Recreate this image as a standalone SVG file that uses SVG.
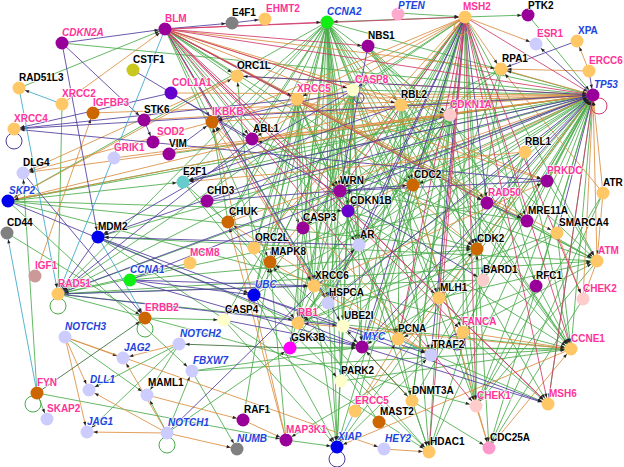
<svg xmlns="http://www.w3.org/2000/svg" width="624" height="467" viewBox="0 0 624 467">
<style>
.e line{stroke-width:0.85;fill:none;marker-end:url(#a)}
.g line{stroke:#4aab4a}
.o line{stroke:#dc8e40}
.p line{stroke:#4f3a9e}
.r line{stroke:#d03a6a}
.t line{stroke:#3aa6c8}
.d line{stroke:#356b35}
.loop{fill:none;stroke-width:1}
text{font-family:"Liberation Sans",Arial,sans-serif;font-size:10px;font-weight:bold;paint-order:stroke;stroke:#fff;stroke-width:1.6px;stroke-opacity:0.85;stroke-linejoin:round}
.k{fill:#000}
.m{fill:#ff3399}
.mi{fill:#ff3399;font-style:italic}
.b{fill:#2244dd;font-style:italic}
.bn{fill:#2244dd}
.pu{fill:#990099}.bv{fill:#6600cc}.bl{fill:#0000ee}.gr{fill:#11ee11}.lo{fill:#ffc766}.do{fill:#cc6600}.gy{fill:#808080}.lv{fill:#ccccff}.ly{fill:#ffffcc}.lp{fill:#ffcccc}
</style>
<defs>
<marker id="a" viewBox="-12 -2 12 4" refX="0" refY="0" markerWidth="12" markerHeight="4" markerUnits="userSpaceOnUse" orient="auto">
<path d="M-6.5,0 L-10.5,-1.6 L-10.5,1.6 z" fill="#222"/>
</marker>
</defs>
<rect width="624" height="467" fill="#fff"/>
<g id="connectors">
<g class="e g">
<line x1="62" y1="43" x2="593" y2="95"/><line x1="327" y1="22" x2="593" y2="95"/><line x1="368" y1="46" x2="593" y2="95"/><line x1="353" y1="90" x2="593" y2="95"/><line x1="401" y1="105" x2="593" y2="95"/><line x1="450" y1="115" x2="593" y2="95"/><line x1="525" y1="152" x2="593" y2="95"/><line x1="547" y1="181" x2="593" y2="95"/><line x1="527" y1="221" x2="593" y2="95"/><line x1="477" y1="249" x2="593" y2="95"/><line x1="413" y1="185" x2="593" y2="95"/><line x1="340" y1="191" x2="593" y2="95"/><line x1="359" y1="245" x2="593" y2="95"/><line x1="314" y1="286" x2="593" y2="95"/><line x1="439" y1="298" x2="593" y2="95"/><line x1="483" y1="280" x2="593" y2="95"/><line x1="343" y1="326" x2="593" y2="95"/><line x1="398" y1="339" x2="593" y2="95"/><line x1="476" y1="406" x2="593" y2="95"/><line x1="463" y1="332" x2="593" y2="95"/><line x1="429" y1="452" x2="593" y2="95"/><line x1="412" y1="401" x2="593" y2="95"/><line x1="341" y1="381" x2="593" y2="95"/><line x1="270" y1="262" x2="593" y2="95"/><line x1="303" y1="228" x2="593" y2="95"/><line x1="183" y1="182" x2="593" y2="95"/><line x1="98" y1="237" x2="593" y2="95"/><line x1="8" y1="201" x2="593" y2="95"/><line x1="254" y1="295" x2="593" y2="95"/><line x1="337" y1="447" x2="593" y2="95"/><line x1="290" y1="348" x2="593" y2="95"/><line x1="548" y1="404" x2="593" y2="95"/><line x1="571" y1="349" x2="593" y2="95"/><line x1="431" y1="355" x2="593" y2="95"/><line x1="489" y1="448" x2="593" y2="95"/><line x1="536" y1="286" x2="593" y2="95"/><line x1="528" y1="15" x2="593" y2="95"/><line x1="169" y1="154" x2="593" y2="95"/>
<line x1="465" y1="17" x2="327" y2="22"/><line x1="465" y1="17" x2="353" y2="90"/><line x1="465" y1="17" x2="401" y2="105"/><line x1="465" y1="17" x2="348" y2="211"/><line x1="465" y1="17" x2="413" y2="185"/><line x1="465" y1="17" x2="314" y2="286"/><line x1="465" y1="17" x2="343" y2="326"/><line x1="465" y1="17" x2="463" y2="332"/><line x1="465" y1="17" x2="58" y2="294"/><line x1="465" y1="17" x2="355" y2="411"/><line x1="465" y1="17" x2="337" y2="447"/><line x1="465" y1="17" x2="341" y2="381"/><line x1="465" y1="17" x2="477" y2="249"/><line x1="465" y1="17" x2="483" y2="280"/><line x1="465" y1="17" x2="536" y2="286"/><line x1="465" y1="17" x2="528" y2="15"/><line x1="465" y1="17" x2="303" y2="228"/><line x1="465" y1="17" x2="254" y2="295"/><line x1="465" y1="17" x2="597" y2="261"/><line x1="465" y1="17" x2="290" y2="348"/><line x1="465" y1="17" x2="412" y2="401"/><line x1="465" y1="17" x2="527" y2="221"/><line x1="398" y1="13" x2="465" y2="17"/>
<line x1="165" y1="29" x2="527" y2="221"/><line x1="165" y1="29" x2="597" y2="261"/><line x1="165" y1="29" x2="413" y2="185"/><line x1="165" y1="29" x2="477" y2="249"/><line x1="165" y1="29" x2="252" y2="139"/><line x1="165" y1="29" x2="212" y2="122"/><line x1="165" y1="29" x2="303" y2="228"/><line x1="165" y1="29" x2="359" y2="245"/><line x1="165" y1="29" x2="328" y2="303"/><line x1="165" y1="29" x2="237" y2="76"/><line x1="165" y1="29" x2="270" y2="262"/><line x1="19" y1="88" x2="165" y2="29"/>
<line x1="327" y1="22" x2="212" y2="122"/><line x1="327" y1="22" x2="252" y2="139"/><line x1="327" y1="22" x2="207" y2="201"/><line x1="327" y1="22" x2="228" y2="222"/><line x1="327" y1="22" x2="303" y2="228"/><line x1="327" y1="22" x2="254" y2="248"/><line x1="327" y1="22" x2="270" y2="262"/><line x1="327" y1="22" x2="254" y2="295"/><line x1="327" y1="22" x2="314" y2="286"/><line x1="327" y1="22" x2="340" y2="191"/><line x1="327" y1="22" x2="348" y2="211"/><line x1="327" y1="22" x2="413" y2="185"/><line x1="327" y1="22" x2="359" y2="245"/><line x1="327" y1="22" x2="477" y2="249"/><line x1="327" y1="22" x2="398" y2="339"/><line x1="327" y1="22" x2="362" y2="347"/><line x1="327" y1="22" x2="183" y2="182"/><line x1="327" y1="22" x2="8" y2="201"/><line x1="327" y1="22" x2="571" y2="349"/><line x1="327" y1="22" x2="476" y2="406"/><line x1="327" y1="22" x2="548" y2="404"/><line x1="327" y1="22" x2="463" y2="332"/><line x1="327" y1="22" x2="328" y2="303"/><line x1="327" y1="22" x2="337" y2="447"/><line x1="327" y1="22" x2="343" y2="326"/><line x1="327" y1="22" x2="290" y2="348"/><line x1="327" y1="22" x2="298" y2="323"/><line x1="327" y1="22" x2="439" y2="298"/><line x1="327" y1="22" x2="341" y2="381"/><line x1="327" y1="22" x2="401" y2="105"/><line x1="327" y1="22" x2="450" y2="115"/><line x1="327" y1="22" x2="58" y2="294"/>
<line x1="353" y1="90" x2="303" y2="228"/><line x1="353" y1="90" x2="337" y2="447"/><line x1="353" y1="90" x2="431" y2="355"/><line x1="353" y1="90" x2="348" y2="211"/><line x1="353" y1="90" x2="359" y2="245"/><line x1="353" y1="90" x2="314" y2="286"/><line x1="353" y1="90" x2="328" y2="303"/><line x1="353" y1="90" x2="270" y2="262"/><line x1="353" y1="90" x2="254" y2="295"/><line x1="353" y1="90" x2="224" y2="320"/><line x1="353" y1="90" x2="341" y2="381"/><line x1="353" y1="90" x2="362" y2="347"/><line x1="353" y1="90" x2="290" y2="348"/><line x1="353" y1="90" x2="228" y2="222"/><line x1="353" y1="90" x2="298" y2="323"/>
<line x1="297" y1="99" x2="314" y2="286"/><line x1="297" y1="99" x2="340" y2="191"/><line x1="297" y1="99" x2="359" y2="245"/><line x1="297" y1="99" x2="328" y2="303"/><line x1="297" y1="99" x2="254" y2="295"/><line x1="297" y1="99" x2="303" y2="228"/><line x1="297" y1="99" x2="254" y2="248"/><line x1="297" y1="99" x2="298" y2="323"/><line x1="297" y1="99" x2="398" y2="339"/><line x1="297" y1="99" x2="228" y2="222"/><line x1="297" y1="99" x2="270" y2="262"/>
<line x1="401" y1="105" x2="477" y2="249"/><line x1="401" y1="105" x2="429" y2="452"/><line x1="401" y1="105" x2="571" y2="349"/><line x1="401" y1="105" x2="413" y2="185"/><line x1="401" y1="105" x2="298" y2="323"/><line x1="401" y1="105" x2="362" y2="347"/><line x1="401" y1="105" x2="398" y2="339"/>
<line x1="450" y1="115" x2="477" y2="249"/><line x1="450" y1="115" x2="413" y2="185"/><line x1="450" y1="115" x2="398" y2="339"/><line x1="450" y1="115" x2="571" y2="349"/><line x1="450" y1="115" x2="362" y2="347"/><line x1="450" y1="115" x2="348" y2="211"/><line x1="450" y1="115" x2="290" y2="348"/><line x1="450" y1="115" x2="303" y2="228"/><line x1="450" y1="115" x2="183" y2="182"/><line x1="450" y1="115" x2="298" y2="323"/><line x1="450" y1="115" x2="429" y2="452"/><line x1="450" y1="115" x2="476" y2="406"/><line x1="450" y1="115" x2="412" y2="401"/><line x1="450" y1="115" x2="359" y2="245"/>
<line x1="368" y1="46" x2="487" y2="203"/><line x1="368" y1="46" x2="527" y2="221"/><line x1="368" y1="46" x2="597" y2="261"/><line x1="368" y1="46" x2="477" y2="249"/><line x1="368" y1="46" x2="571" y2="349"/>
<line x1="501" y1="69" x2="58" y2="294"/><line x1="501" y1="69" x2="340" y2="191"/><line x1="501" y1="69" x2="398" y2="339"/><line x1="501" y1="69" x2="477" y2="249"/>
<line x1="525" y1="152" x2="477" y2="249"/><line x1="525" y1="152" x2="571" y2="349"/><line x1="525" y1="152" x2="429" y2="452"/><line x1="525" y1="152" x2="413" y2="185"/><line x1="525" y1="152" x2="298" y2="323"/>
<line x1="547" y1="181" x2="597" y2="261"/><line x1="603" y1="193" x2="476" y2="406"/><line x1="603" y1="193" x2="489" y2="448"/><line x1="487" y1="203" x2="597" y2="261"/><line x1="487" y1="203" x2="58" y2="294"/><line x1="527" y1="221" x2="597" y2="261"/><line x1="527" y1="221" x2="340" y2="191"/><line x1="557" y1="233" x2="298" y2="323"/><line x1="557" y1="233" x2="571" y2="349"/><line x1="557" y1="233" x2="362" y2="347"/>
<line x1="477" y1="249" x2="571" y2="349"/><line x1="348" y1="211" x2="477" y2="249"/><line x1="477" y1="249" x2="489" y2="448"/><line x1="477" y1="249" x2="298" y2="323"/><line x1="8" y1="201" x2="477" y2="249"/><line x1="130" y1="280" x2="477" y2="249"/><line x1="476" y1="406" x2="477" y2="249"/>
<line x1="597" y1="261" x2="476" y2="406"/><line x1="597" y1="261" x2="252" y2="139"/><line x1="597" y1="261" x2="98" y2="237"/><line x1="483" y1="280" x2="58" y2="294"/><line x1="536" y1="286" x2="398" y2="339"/><line x1="536" y1="286" x2="476" y2="406"/><line x1="583" y1="299" x2="489" y2="448"/><line x1="413" y1="185" x2="298" y2="323"/><line x1="413" y1="185" x2="476" y2="406"/>
<line x1="340" y1="191" x2="314" y2="286"/><line x1="340" y1="191" x2="398" y2="339"/><line x1="340" y1="191" x2="58" y2="294"/><line x1="348" y1="211" x2="571" y2="349"/><line x1="8" y1="201" x2="348" y2="211"/><line x1="359" y1="245" x2="429" y2="452"/><line x1="359" y1="245" x2="298" y2="323"/><line x1="359" y1="245" x2="328" y2="303"/><line x1="328" y1="303" x2="337" y2="447"/><line x1="439" y1="298" x2="398" y2="339"/><line x1="439" y1="298" x2="597" y2="261"/>
<line x1="58" y1="294" x2="476" y2="406"/><line x1="58" y1="294" x2="571" y2="349"/><line x1="58" y1="294" x2="597" y2="261"/><line x1="8" y1="201" x2="571" y2="349"/><line x1="8" y1="201" x2="450" y2="115"/><line x1="8" y1="201" x2="183" y2="182"/><line x1="8" y1="201" x2="192" y2="371"/><line x1="7" y1="233" x2="145" y2="318"/><line x1="98" y1="237" x2="298" y2="323"/><line x1="98" y1="237" x2="429" y2="452"/><line x1="183" y1="182" x2="298" y2="323"/><line x1="183" y1="182" x2="362" y2="347"/><line x1="207" y1="201" x2="429" y2="452"/><line x1="228" y1="222" x2="212" y2="122"/><line x1="303" y1="228" x2="337" y2="447"/><line x1="286" y1="440" x2="270" y2="262"/><line x1="254" y1="248" x2="237" y2="76"/><line x1="190" y1="263" x2="58" y2="294"/><line x1="62" y1="104" x2="58" y2="294"/>
<line x1="254" y1="295" x2="341" y2="381"/><line x1="254" y1="295" x2="337" y2="447"/><line x1="145" y1="318" x2="224" y2="320"/><line x1="224" y1="320" x2="337" y2="447"/><line x1="290" y1="348" x2="362" y2="347"/><line x1="290" y1="348" x2="571" y2="349"/><line x1="167" y1="433" x2="290" y2="348"/><line x1="298" y1="323" x2="429" y2="452"/><line x1="343" y1="326" x2="337" y2="447"/><line x1="398" y1="339" x2="412" y2="401"/><line x1="398" y1="339" x2="548" y2="404"/><line x1="362" y1="347" x2="571" y2="349"/><line x1="192" y1="371" x2="362" y2="347"/><line x1="362" y1="347" x2="477" y2="249"/><line x1="431" y1="355" x2="286" y2="440"/><line x1="341" y1="381" x2="571" y2="349"/><line x1="379" y1="422" x2="270" y2="262"/><line x1="286" y1="440" x2="337" y2="447"/><line x1="337" y1="447" x2="431" y2="355"/><line x1="412" y1="401" x2="429" y2="452"/><line x1="412" y1="401" x2="489" y2="448"/><line x1="463" y1="332" x2="548" y2="404"/><line x1="463" y1="332" x2="476" y2="406"/><line x1="463" y1="332" x2="597" y2="261"/><line x1="192" y1="371" x2="571" y2="349"/>
<line x1="65" y1="337" x2="147" y2="395"/><line x1="167" y1="433" x2="147" y2="395"/><line x1="167" y1="433" x2="192" y2="371"/><line x1="179" y1="344" x2="89" y2="390"/><line x1="179" y1="344" x2="87" y2="432"/><line x1="179" y1="344" x2="147" y2="395"/><line x1="37" y1="393" x2="47" y2="419"/><line x1="37" y1="393" x2="23" y2="173"/><line x1="37" y1="393" x2="286" y2="440"/><line x1="192" y1="371" x2="237" y2="449"/><line x1="243" y1="420" x2="270" y2="262"/>
</g>
<g class="e o">
<line x1="297" y1="99" x2="593" y2="95"/><line x1="237" y1="76" x2="593" y2="95"/><line x1="348" y1="211" x2="593" y2="95"/><line x1="597" y1="261" x2="593" y2="95"/><line x1="603" y1="193" x2="593" y2="95"/><line x1="212" y1="122" x2="593" y2="95"/><line x1="144" y1="120" x2="593" y2="95"/><line x1="171" y1="93" x2="593" y2="95"/><line x1="93" y1="113" x2="593" y2="95"/><line x1="252" y1="139" x2="593" y2="95"/><line x1="228" y1="222" x2="593" y2="95"/><line x1="583" y1="299" x2="593" y2="95"/><line x1="593" y1="95" x2="501" y2="69"/><line x1="355" y1="411" x2="593" y2="95"/><line x1="593" y1="95" x2="23" y2="173"/><line x1="114" y1="158" x2="593" y2="95"/>
<line x1="465" y1="17" x2="297" y2="99"/><line x1="465" y1="17" x2="536" y2="44"/><line x1="465" y1="17" x2="501" y2="69"/><line x1="465" y1="17" x2="270" y2="262"/><line x1="465" y1="17" x2="254" y2="248"/><line x1="465" y1="17" x2="252" y2="139"/><line x1="465" y1="17" x2="212" y2="122"/>
<line x1="165" y1="29" x2="501" y2="69"/><line x1="165" y1="29" x2="450" y2="115"/><line x1="165" y1="29" x2="547" y2="181"/><line x1="165" y1="29" x2="557" y2="233"/><line x1="165" y1="29" x2="401" y2="105"/><line x1="62" y1="104" x2="165" y2="29"/>
<line x1="297" y1="99" x2="547" y2="181"/><line x1="297" y1="99" x2="477" y2="249"/><line x1="297" y1="99" x2="527" y2="221"/><line x1="297" y1="99" x2="487" y2="203"/><line x1="297" y1="99" x2="23" y2="173"/><line x1="401" y1="105" x2="8" y2="201"/><line x1="450" y1="115" x2="8" y2="201"/><line x1="589" y1="71" x2="501" y2="69"/><line x1="589" y1="71" x2="577" y2="41"/><line x1="603" y1="193" x2="597" y2="261"/><line x1="603" y1="193" x2="501" y2="69"/><line x1="597" y1="261" x2="583" y2="299"/><line x1="557" y1="233" x2="583" y2="299"/><line x1="314" y1="286" x2="547" y2="181"/><line x1="413" y1="185" x2="489" y2="448"/><line x1="476" y1="406" x2="489" y2="448"/><line x1="8" y1="201" x2="237" y2="76"/><line x1="237" y1="76" x2="23" y2="173"/><line x1="525" y1="152" x2="183" y2="182"/><line x1="35" y1="276" x2="93" y2="113"/><line x1="328" y1="303" x2="212" y2="122"/><line x1="431" y1="355" x2="228" y2="222"/><line x1="286" y1="440" x2="228" y2="222"/><line x1="286" y1="440" x2="212" y2="122"/><line x1="431" y1="355" x2="270" y2="262"/><line x1="431" y1="355" x2="212" y2="122"/><line x1="571" y1="349" x2="298" y2="323"/><line x1="355" y1="411" x2="398" y2="339"/><line x1="362" y1="347" x2="412" y2="401"/><line x1="571" y1="349" x2="337" y2="447"/><line x1="384" y1="449" x2="429" y2="452"/><line x1="463" y1="332" x2="571" y2="349"/><line x1="489" y1="448" x2="571" y2="349"/>
<line x1="65" y1="337" x2="123" y2="358"/><line x1="65" y1="337" x2="89" y2="390"/><line x1="65" y1="337" x2="87" y2="432"/><line x1="167" y1="433" x2="123" y2="358"/><line x1="167" y1="433" x2="89" y2="390"/><line x1="167" y1="433" x2="87" y2="432"/><line x1="167" y1="433" x2="237" y2="449"/><line x1="179" y1="344" x2="123" y2="358"/><line x1="147" y1="395" x2="243" y2="420"/><line x1="243" y1="420" x2="286" y2="440"/><line x1="65" y1="337" x2="384" y2="449"/>
</g>
<g class="e p">
<line x1="487" y1="203" x2="593" y2="95"/><line x1="328" y1="303" x2="593" y2="95"/><line x1="557" y1="233" x2="593" y2="95"/><line x1="362" y1="347" x2="593" y2="95"/><line x1="207" y1="201" x2="593" y2="95"/><line x1="58" y1="294" x2="593" y2="95"/><line x1="14" y1="129" x2="593" y2="95"/><line x1="589" y1="71" x2="593" y2="95"/><line x1="593" y1="95" x2="536" y2="44"/><line x1="130" y1="280" x2="593" y2="95"/><line x1="593" y1="95" x2="237" y2="76"/><line x1="593" y1="95" x2="183" y2="182"/>
<line x1="465" y1="17" x2="359" y2="245"/><line x1="465" y1="17" x2="362" y2="347"/><line x1="465" y1="17" x2="431" y2="355"/><line x1="465" y1="17" x2="328" y2="303"/><line x1="465" y1="17" x2="487" y2="203"/>
<line x1="165" y1="29" x2="232" y2="23"/><line x1="232" y1="23" x2="265" y2="19"/><line x1="165" y1="29" x2="343" y2="326"/><line x1="62" y1="43" x2="165" y2="29"/><line x1="62" y1="43" x2="144" y2="120"/><line x1="62" y1="43" x2="98" y2="237"/><line x1="144" y1="120" x2="153" y2="142"/><line x1="171" y1="93" x2="252" y2="139"/><line x1="171" y1="93" x2="14" y2="129"/><line x1="169" y1="154" x2="212" y2="122"/><line x1="297" y1="99" x2="14" y2="129"/><line x1="547" y1="181" x2="14" y2="129"/><line x1="133" y1="70" x2="483" y2="280"/><line x1="577" y1="41" x2="501" y2="69"/><line x1="368" y1="46" x2="340" y2="191"/><line x1="487" y1="203" x2="527" y2="221"/><line x1="547" y1="181" x2="340" y2="191"/><line x1="353" y1="90" x2="212" y2="122"/><line x1="353" y1="90" x2="98" y2="237"/><line x1="450" y1="115" x2="98" y2="237"/><line x1="401" y1="105" x2="183" y2="182"/><line x1="207" y1="201" x2="413" y2="185"/><line x1="359" y1="245" x2="98" y2="237"/><line x1="23" y1="173" x2="145" y2="318"/><line x1="98" y1="237" x2="58" y2="294"/><line x1="98" y1="237" x2="254" y2="295"/><line x1="252" y1="139" x2="58" y2="294"/><line x1="58" y1="294" x2="314" y2="286"/><line x1="130" y1="280" x2="314" y2="286"/><line x1="130" y1="280" x2="254" y2="295"/><line x1="130" y1="280" x2="362" y2="347"/><line x1="58" y1="294" x2="343" y2="326"/><line x1="254" y1="295" x2="548" y2="404"/><line x1="362" y1="347" x2="548" y2="404"/><line x1="254" y1="295" x2="431" y2="355"/><line x1="224" y1="320" x2="362" y2="347"/><line x1="362" y1="347" x2="343" y2="326"/><line x1="8" y1="201" x2="362" y2="347"/><line x1="167" y1="433" x2="359" y2="245"/>
</g>
<g class="e r">
<line x1="165" y1="29" x2="593" y2="95"/><line x1="465" y1="17" x2="593" y2="95"/><line x1="165" y1="29" x2="340" y2="191"/><line x1="165" y1="29" x2="297" y2="99"/><line x1="165" y1="29" x2="353" y2="90"/><line x1="165" y1="29" x2="487" y2="203"/><line x1="165" y1="29" x2="368" y2="46"/><line x1="165" y1="29" x2="439" y2="298"/><line x1="165" y1="29" x2="476" y2="406"/><line x1="165" y1="29" x2="548" y2="404"/><line x1="165" y1="29" x2="463" y2="332"/><line x1="165" y1="29" x2="314" y2="286"/><line x1="165" y1="29" x2="465" y2="17"/><line x1="165" y1="29" x2="327" y2="22"/>
<line x1="465" y1="17" x2="450" y2="115"/><line x1="465" y1="17" x2="340" y2="191"/><line x1="465" y1="17" x2="439" y2="298"/><line x1="465" y1="17" x2="398" y2="339"/><line x1="465" y1="17" x2="476" y2="406"/><line x1="465" y1="17" x2="548" y2="404"/><line x1="465" y1="17" x2="571" y2="349"/><line x1="465" y1="17" x2="583" y2="299"/><line x1="465" y1="17" x2="429" y2="452"/><line x1="439" y1="298" x2="548" y2="404"/><line x1="593" y1="95" x2="548" y2="404"/>
</g>
<g class="e t">
<line x1="165" y1="29" x2="58" y2="294"/><line x1="62" y1="104" x2="19" y2="88"/><line x1="19" y1="88" x2="58" y2="294"/><line x1="37" y1="393" x2="7" y2="233"/><line x1="355" y1="411" x2="337" y2="447"/><line x1="398" y1="339" x2="431" y2="355"/><line x1="98" y1="237" x2="145" y2="318"/>
</g>
<g class="e d">
<line x1="37" y1="393" x2="145" y2="318"/><line x1="290" y1="348" x2="179" y2="344"/><line x1="412" y1="401" x2="362" y2="347"/>
</g>
<circle class="loop" cx="14" cy="141" r="8" stroke="#4f3a9e"/>
<circle class="loop" cx="58" cy="306" r="8" stroke="#4aab4a"/>
<circle class="loop" cx="145" cy="329" r="8" stroke="#4aab4a"/>
<circle class="loop" cx="33" cy="404" r="8" stroke="#4aab4a"/>
<circle class="loop" cx="167" cy="445" r="8" stroke="#4aab4a"/>
<circle class="loop" cx="337" cy="459" r="8" stroke="#4f3a9e"/>
<circle class="loop" cx="599" cy="106" r="8" stroke="#d03a6a"/>
<circle class="loop" cx="457" cy="342" r="8" stroke="#4f3a9e"/>
<circle class="loop" cx="359" cy="98" r="5" stroke="#4f3a9e"/>
<circle class="loop" cx="461" cy="28" r="7" stroke="#dc8e40"/>
</g>
<g id="nodes">
<g id="n-CDKN2A"><circle cx="62" cy="43" r="6.5" class="pu"/><text x="62" y="36" class="mi">CDKN2A</text></g>
<g id="n-CSTF1"><circle cx="133" cy="70" r="6.5" fill="#c8c81e"/><text x="133" y="63" class="k">CSTF1</text></g>
<g id="n-RAD51L3"><circle cx="19" cy="88" r="6.5" class="lo"/><text x="19" y="81" class="k">RAD51L3</text></g>
<g id="n-XRCC2"><circle cx="62" cy="104" r="6.5" class="lo"/><text x="62" y="97" class="m">XRCC2</text></g>
<g id="n-IGFBP3"><circle cx="93" cy="113" r="6.5" class="do"/><text x="93" y="106" class="m">IGFBP3</text></g>
<g id="n-XRCC4"><circle cx="14" cy="129" r="6.5" class="lo"/><text x="14" y="122" class="m">XRCC4</text></g>
<g id="n-STK6"><circle cx="144" cy="120" r="6.5" class="pu"/><text x="144" y="113" class="k">STK6</text></g>
<g id="n-SOD2"><circle cx="153" cy="142" r="6.5" class="pu"/><text x="157" y="135" class="m">SOD2</text></g>
<g id="n-GRIK1"><circle cx="114" cy="158" r="6.5" class="lv"/><text x="114" y="151" class="m">GRIK1</text></g>
<g id="n-BLM"><circle cx="165" cy="29" r="6.5" class="pu"/><text x="165" y="22" class="m">BLM</text></g>
<g id="n-E4F1"><circle cx="232" cy="23" r="6.5" class="gy"/><text x="232" y="16" class="k">E4F1</text></g>
<g id="n-EHMT2"><circle cx="265" cy="19" r="6.5" class="lo"/><text x="266" y="12" class="m">EHMT2</text></g>
<g id="n-ORC1L"><circle cx="237" cy="76" r="6.5" class="lo"/><text x="237" y="69" class="k">ORC1L</text></g>
<g id="n-COL1A1"><circle cx="171" cy="93" r="6.5" class="bv"/><text x="172" y="86" class="m">COL1A1</text></g>
<g id="n-XRCC5"><circle cx="297" cy="99" r="6.5" class="lo"/><text x="297" y="92" class="m">XRCC5</text></g>
<g id="n-IKBKB"><circle cx="212" cy="122" r="6.5" class="do"/><text x="212" y="115" class="m">IKBKB</text></g>
<g id="n-ABL1"><circle cx="252" cy="139" r="6.5" class="pu"/><text x="253" y="132" class="k">ABL1</text></g>
<g id="n-VIM"><circle cx="169" cy="154" r="6.5" class="pu"/><text x="169" y="147" class="k">VIM</text></g>
<g id="n-CCNA2"><circle cx="327" cy="22" r="6.5" class="gr"/><text x="327" y="15" class="b">CCNA2</text></g>
<g id="n-PTEN"><circle cx="398" cy="14" r="6.5" fill="#ffaacc"/><text x="398" y="9" class="b">PTEN</text></g>
<g id="n-NBS1"><circle cx="368" cy="46" r="6.5" class="pu"/><text x="368" y="39" class="k">NBS1</text></g>
<g id="n-CASP8"><circle cx="353" cy="90" r="6.5" class="ly"/><text x="355" y="83" class="m">CASP8</text></g>
<g id="n-RBL2"><circle cx="401" cy="105" r="6.5" class="lo"/><text x="401" y="98" class="k">RBL2</text></g>
<g id="n-CDKN1A"><circle cx="450" cy="115" r="6.5" class="lp"/><text x="450" y="108" class="m">CDKN1A</text></g>
<g id="n-MSH2"><circle cx="465" cy="17" r="6.5" class="lo"/><text x="463" y="10" class="m">MSH2</text></g>
<g id="n-PTK2"><circle cx="528" cy="15" r="6.5" class="pu"/><text x="528" y="9" class="k">PTK2</text></g>
<g id="n-ESR1"><circle cx="536" cy="44" r="6.5" class="lv"/><text x="537" y="37" class="m">ESR1</text></g>
<g id="n-XPA"><circle cx="577" cy="41" r="6.5" class="lo"/><text x="578" y="34" class="bn">XPA</text></g>
<g id="n-RPA1"><circle cx="501" cy="69" r="6.5" class="lo"/><text x="502" y="62" class="k">RPA1</text></g>
<g id="n-ERCC6"><circle cx="589" cy="71" r="6.5" class="lo"/><text x="589" y="64" class="m">ERCC6</text></g>
<g id="n-TP53"><circle cx="593" cy="95" r="6.5" class="pu"/><text x="594" y="88" class="b">TP53</text></g>
<g id="n-RBL1"><circle cx="525" cy="152" r="6.5" class="lo"/><text x="525" y="145" class="k">RBL1</text></g>
<g id="n-DLG4"><circle cx="23" cy="173" r="6.5" class="lv"/><text x="23" y="166" class="k">DLG4</text></g>
<g id="n-SKP2"><circle cx="8" cy="201" r="6.5" class="bl"/><text x="9" y="194" class="b">SKP2</text></g>
<g id="n-CD44"><circle cx="7" cy="233" r="6.5" class="gy"/><text x="7" y="226" class="k">CD44</text></g>
<g id="n-MDM2"><circle cx="98" cy="237" r="6.5" class="bl"/><text x="98" y="230" class="k">MDM2</text></g>
<g id="n-IGF1"><circle cx="35" cy="276" r="6.5" fill="#cc9999"/><text x="35" y="269" class="m">IGF1</text></g>
<g id="n-RAD51"><circle cx="58" cy="294" r="6.5" class="lo"/><text x="58" y="287" class="m">RAD51</text></g>
<g id="n-CCNA1"><circle cx="130" cy="280" r="6.5" class="gr"/><text x="130" y="273" class="b">CCNA1</text></g>
<g id="n-E2F1"><circle cx="183" cy="182" r="6.5" fill="#66cccc"/><text x="183" y="175" class="k">E2F1</text></g>
<g id="n-CHD3"><circle cx="207" cy="201" r="6.5" class="pu"/><text x="207" y="194" class="k">CHD3</text></g>
<g id="n-CHUK"><circle cx="228" cy="222" r="6.5" class="do"/><text x="229" y="215" class="k">CHUK</text></g>
<g id="n-CASP3"><circle cx="303" cy="228" r="6.5" class="pu"/><text x="303" y="221" class="k">CASP3</text></g>
<g id="n-ORC2L"><circle cx="254" cy="248" r="6.5" class="lo"/><text x="255" y="241" class="k">ORC2L</text></g>
<g id="n-MAPK8"><circle cx="270" cy="262" r="6.5" class="do"/><text x="271" y="255" class="k">MAPK8</text></g>
<g id="n-MCM8"><circle cx="190" cy="263" r="6.5" class="lo"/><text x="190" y="256" class="m">MCM8</text></g>
<g id="n-UBC"><circle cx="254" cy="295" r="6.5" class="bl"/><text x="255" y="288" class="b">UBC</text></g>
<g id="n-CASP4"><circle cx="224" cy="320" r="6.5" class="ly"/><text x="225" y="313" class="k">CASP4</text></g>
<g id="n-ERBB2"><circle cx="145" cy="318" r="6.5" class="do"/><text x="145" y="311" class="m">ERBB2</text></g>
<g id="n-WRN"><circle cx="340" cy="191" r="6.5" class="pu"/><text x="340" y="184" class="k">WRN</text></g>
<g id="n-CDKN1B"><circle cx="348" cy="211" r="6.5" class="bv"/><text x="350" y="204" class="k">CDKN1B</text></g>
<g id="n-CDC2"><circle cx="413" cy="185" r="6.5" class="do"/><text x="414" y="178" class="k">CDC2</text></g>
<g id="n-AR"><circle cx="359" cy="245" r="6.5" class="lv"/><text x="360" y="238" class="k">AR</text></g>
<g id="n-XRCC6"><circle cx="314" cy="286" r="6.5" class="lo"/><text x="315" y="279" class="k">XRCC6</text></g>
<g id="n-HSPCA"><circle cx="328" cy="303" r="6.5" class="lv"/><text x="329" y="296" class="k">HSPCA</text></g>
<g id="n-MLH1"><circle cx="439" cy="298" r="6.5" class="lo"/><text x="440" y="291" class="k">MLH1</text></g>
<g id="n-PRKDC"><circle cx="547" cy="181" r="6.5" class="pu"/><text x="547" y="174" class="m">PRKDC</text></g>
<g id="n-ATR"><circle cx="603" cy="193" r="6.5" class="lo"/><text x="603" y="186" class="k">ATR</text></g>
<g id="n-RAD50"><circle cx="487" cy="203" r="6.5" class="pu"/><text x="488" y="196" class="m">RAD50</text></g>
<g id="n-MRE11A"><circle cx="527" cy="221" r="6.5" class="pu"/><text x="528" y="214" class="k">MRE11A</text></g>
<g id="n-SMARCA4"><circle cx="557" cy="233" r="6.5" class="lo"/><text x="559" y="226" class="k">SMARCA4</text></g>
<g id="n-CDK2"><circle cx="477" cy="249" r="6.5" class="do"/><text x="477" y="242" class="k">CDK2</text></g>
<g id="n-ATM"><circle cx="597" cy="261" r="6.5" class="lo"/><text x="598" y="254" class="m">ATM</text></g>
<g id="n-BARD1"><circle cx="483" cy="280" r="6.5" class="lp"/><text x="483" y="273" class="k">BARD1</text></g>
<g id="n-RFC1"><circle cx="536" cy="286" r="6.5" class="pu"/><text x="536" y="279" class="k">RFC1</text></g>
<g id="n-CHEK2"><circle cx="583" cy="299" r="6.5" class="lp"/><text x="583" y="292" class="m">CHEK2</text></g>
<g id="n-NOTCH3"><circle cx="65" cy="337" r="6.5" class="lv"/><text x="65" y="330" class="b">NOTCH3</text></g>
<g id="n-JAG2"><circle cx="123" cy="358" r="6.5" class="lv"/><text x="124" y="351" class="b">JAG2</text></g>
<g id="n-FYN"><circle cx="37" cy="393" r="6.5" class="do"/><text x="37" y="386" class="m">FYN</text></g>
<g id="n-DLL1"><circle cx="89" cy="390" r="6.5" class="lv"/><text x="90" y="383" class="b">DLL1</text></g>
<g id="n-SKAP2"><circle cx="47" cy="419" r="6.5" class="lv"/><text x="47" y="412" class="m">SKAP2</text></g>
<g id="n-JAG1"><circle cx="87" cy="432" r="6.5" class="lv"/><text x="87" y="425" class="b">JAG1</text></g>
<g id="n-MAML1"><circle cx="147" cy="395" r="6.5" class="lv"/><text x="148" y="386" class="k">MAML1</text></g>
<g id="n-NOTCH2"><circle cx="179" cy="344" r="6.5" class="lv"/><text x="180" y="337" class="b">NOTCH2</text></g>
<g id="n-FBXW7"><circle cx="192" cy="371" r="6.5" class="lv"/><text x="193" y="364" class="b">FBXW7</text></g>
<g id="n-NOTCH1"><circle cx="167" cy="433" r="6.5" class="lv"/><text x="168" y="426" class="b">NOTCH1</text></g>
<g id="n-RAF1"><circle cx="243" cy="420" r="6.5" class="pu"/><text x="244" y="413" class="k">RAF1</text></g>
<g id="n-NUMB"><circle cx="237" cy="449" r="6.5" class="gy"/><text x="237" y="442" class="b">NUMB</text></g>
<g id="n-MAP3K1"><circle cx="286" cy="440" r="6.5" class="pu"/><text x="286" y="433" class="m">MAP3K1</text></g>
<g id="n-GSK3B"><circle cx="290" cy="348" r="6.5" fill="#ff00ff"/><text x="291" y="341" class="k">GSK3B</text></g>
<g id="n-RB1"><circle cx="298" cy="323" r="6.5" class="lo"/><text x="298" y="316" class="m">RB1</text></g>
<g id="n-UBE2I"><circle cx="343" cy="326" r="6.5" class="ly"/><text x="344" y="319" class="k">UBE2I</text></g>
<g id="n-PCNA"><circle cx="398" cy="339" r="6.5" class="lo"/><text x="398" y="332" class="k">PCNA</text></g>
<g id="n-MYC"><circle cx="362" cy="347" r="6.5" class="pu"/><text x="363" y="340" class="b">MYC</text></g>
<g id="n-TRAF2"><circle cx="431" cy="355" r="6.5" class="lv"/><text x="432" y="348" class="k">TRAF2</text></g>
<g id="n-PARK2"><circle cx="341" cy="381" r="6.5" class="ly"/><text x="341" y="374" class="k">PARK2</text></g>
<g id="n-DNMT3A"><circle cx="412" cy="401" r="6.5" class="lo"/><text x="412" y="394" class="k">DNMT3A</text></g>
<g id="n-ERCC5"><circle cx="355" cy="411" r="6.5" class="lo"/><text x="355" y="404" class="m">ERCC5</text></g>
<g id="n-MAST2"><circle cx="379" cy="422" r="6.5" class="do"/><text x="380" y="415" class="k">MAST2</text></g>
<g id="n-XIAP"><circle cx="337" cy="447" r="6.5" class="bl"/><text x="338" y="440" class="b">XIAP</text></g>
<g id="n-HEY2"><circle cx="384" cy="449" r="6.5" class="lv"/><text x="385" y="442" class="b">HEY2</text></g>
<g id="n-HDAC1"><circle cx="429" cy="452" r="6.5" class="lo"/><text x="430" y="445" class="k">HDAC1</text></g>
<g id="n-FANCA"><circle cx="463" cy="332" r="6.5" class="lo"/><text x="462" y="325" class="m">FANCA</text></g>
<g id="n-CCNE1"><circle cx="571" cy="349" r="6.5" class="lo"/><text x="571" y="342" class="m">CCNE1</text></g>
<g id="n-MSH6"><circle cx="548" cy="404" r="6.5" class="lo"/><text x="549" y="397" class="m">MSH6</text></g>
<g id="n-CHEK1"><circle cx="476" cy="406" r="6.5" class="lp"/><text x="477" y="399" class="m">CHEK1</text></g>
<g id="n-CDC25A"><circle cx="489" cy="448" r="6.5" fill="#ff99cc"/><text x="490" y="441" class="k">CDC25A</text></g>
</g>
</svg>
